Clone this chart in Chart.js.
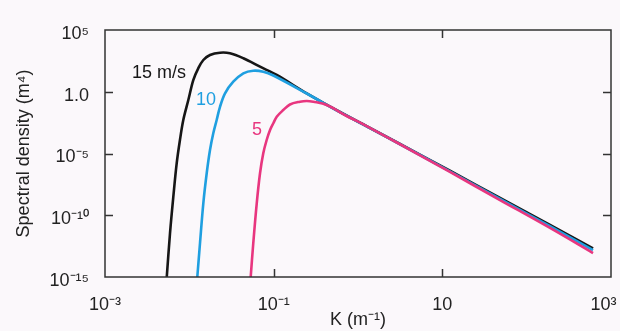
<!DOCTYPE html>
<html><head><meta charset="utf-8">
<script src="https://cdn.jsdelivr.net/npm/chart.js@4.4.1/dist/chart.umd.min.js"></script>
<style>html,body{margin:0;padding:0;background:#fbf8fb;overflow:hidden}#wrap{width:620px;height:331px;position:relative}</style>
</head><body><div id="wrap"><canvas id="c" width="620" height="331"></canvas></div>
<script>
const xTickValues = [1e-3, 1e-1, 10, 1e3];
const xTickLabels = ['10⁻³', '10⁻¹', '10', '10³\u00A0\u00A0\u00A0'];
const yTickValues = [1e-15, 1e-10, 1e-5, 1, 1e5];
const yTickLabels = ['10⁻¹⁵', '10⁻¹⁰', '10⁻⁵', '1.0', '10⁵'];

const k15 = [0.0054, 0.0059, 0.00646, 0.00708, 0.00774, 0.00848, 0.00973, 0.01114, 0.01276, 0.01466, 0.01758, 0.0231, 0.0303, 0.0437, 0.0689, 0.1087, 0.2466, 0.612, 1.388, 3.15, 12.3, 48.3, 189, 612];
const s15 = [1e-15, 3.5e-12, 3.2e-9, 1.6e-6, 1.24e-4, 5.2e-3, 0.215, 8.9, 79, 372, 946, 1450, 1300, 512, 107, 22.7, 0.748, 0.0229, 1.16e-3, 5.9e-5, 4.0e-7, 2.5e-9, 1.65e-11, 2.1e-13];

const k10 = [0.01243, 0.01338, 0.01465, 0.01607, 0.01758, 0.01923, 0.0211, 0.0231, 0.0265, 0.0332, 0.0437, 0.0573, 0.0753, 0.0991, 0.2466, 0.612, 1.388, 3.15, 12.3, 48.3, 189, 612];
const s10 = [1e-15, 5.4e-13, 9.3e-10, 2.5e-7, 1.9e-5, 4.3e-4, 5.2e-3, 0.06, 0.748, 6.5, 31.2, 50.6, 42, 20.7, 0.72, 0.022, 1.12e-3, 5.6e-5, 3.6e-7, 2.1e-9, 1.3e-11, 1.5e-13];

const k5 = [0.0534, 0.0573, 0.0630, 0.0689, 0.0753, 0.0826, 0.0906, 0.0991, 0.1087, 0.130, 0.156, 0.205, 0.2466, 0.295, 0.4256, 0.734, 1.057, 3.15, 12.3, 48.3, 189, 612];
const s5 = [1e-15, 5.4e-13, 9.3e-10, 2.5e-7, 1.04e-5, 1.24e-4, 8.0e-4, 2.8e-3, 9.5e-3, 0.0333, 0.093, 0.156, 0.18, 0.156, 0.0845, 0.0109, 3.2e-3, 5.6e-5, 3.2e-7, 1.7e-9, 9.3e-12, 8.7e-14];

const seriesNames = ['15 m/s', '10', '5'];
const seriesColors = ['#161616', '#1f9fe0', '#e8367f'];
const labelK = [0.00437, 0.0158, 0.0634];
const labelS = [33, 0.215, 8.0e-4];

const FONT = '"Liberation Sans", Arial, Helvetica, sans-serif';

function pts(k, s) { return k.map((v, i) => ({ x: v, y: s[i] })); }

const bgPlugin = {
  id: 'bg',
  beforeDraw(chart) {
    const ctx = chart.ctx;
    ctx.save();
    ctx.fillStyle = '#fbf8fb';
    ctx.fillRect(0, 0, chart.width, chart.height);
    ctx.restore();
  }
};

const framePlugin = {
  id: 'frame',
  afterDatasetsDraw(chart) {
    const { ctx, chartArea: a, scales } = chart;
    ctx.save();
    ctx.strokeStyle = '#333';
    ctx.lineWidth = 1.5;
    ctx.strokeRect(a.left, a.top, a.right - a.left, a.bottom - a.top);
    const L = 8;
    ctx.beginPath();
    xTickValues.forEach(v => {
      if (v === scales.x.min || v === scales.x.max) return;
      const px = Math.round(scales.x.getPixelForValue(v)) + 0.5;
      ctx.moveTo(px, a.bottom); ctx.lineTo(px, a.bottom - L);
      ctx.moveTo(px, a.top); ctx.lineTo(px, a.top + L);
    });
    yTickValues.forEach(v => {
      if (v === scales.y.min || v === scales.y.max) return;
      const py = Math.round(scales.y.getPixelForValue(v)) + 0.5;
      ctx.moveTo(a.left, py); ctx.lineTo(a.left + L, py);
      ctx.moveTo(a.right, py); ctx.lineTo(a.right - L, py);
    });
    ctx.stroke();
    ctx.font = '18px ' + FONT;
    ctx.textAlign = 'center';
    ctx.textBaseline = 'middle';
    seriesNames.forEach((n, i) => {
      ctx.fillStyle = seriesColors[i];
      ctx.fillText(n, scales.x.getPixelForValue(labelK[i]), scales.y.getPixelForValue(labelS[i]));
    });
    ctx.restore();
  }
};

new Chart(document.getElementById('c'), {
  type: 'line',
  data: {
    datasets: [
      { label: seriesNames[0], data: pts(k15, s15), borderColor: seriesColors[0] },
      { label: seriesNames[1], data: pts(k10, s10), borderColor: seriesColors[1] },
      { label: seriesNames[2], data: pts(k5, s5), borderColor: seriesColors[2] }
    ].reverse().map(d => Object.assign(d, { borderWidth: 2.6, pointRadius: 0, fill: false, tension: 0.35 }))
  },
  options: {
    responsive: false,
    animation: false,
    devicePixelRatio: 1,
    layout: { padding: { top: 30, right: 9, left: 0, bottom: 0 } },
    plugins: { legend: { display: false }, tooltip: { enabled: false } },
    scales: {
      x: {
        type: 'logarithmic', min: 1e-3, max: 1e3,
        grid: { display: false }, border: { display: false },
        afterBuildTicks: s => { s.ticks = xTickValues.map(v => ({ value: v })); },
        afterFit: s => { s.height = 54; s.paddingLeft = 0; s.paddingRight = 0; },
        ticks: {
          autoSkip: false, maxRotation: 0, padding: 9, color: '#222',
          font: { size: 18, family: FONT },
          callback: v => { const i = xTickValues.indexOf(v); return i >= 0 ? xTickLabels[i] : ''; }
        },
        title: { display: true, text: 'K (m⁻¹)', color: '#222', font: { size: 18, family: FONT }, padding: { top: 0, bottom: 0 } }
      },
      y: {
        type: 'logarithmic', min: 1e-15, max: 1e5,
        grid: { display: false }, border: { display: false },
        afterBuildTicks: s => { s.ticks = yTickValues.map(v => ({ value: v })); },
        afterFit: s => { s.width = 105; s.paddingTop = 0; s.paddingBottom = 0; },
        ticks: {
          autoSkip: false, padding: 8, labelOffset: 4, color: '#222',
          font: { size: 18, family: FONT },
          callback: v => { const i = yTickValues.indexOf(v); return i >= 0 ? yTickLabels[i] : ''; }
        },
        title: { display: true, text: 'Spectral density (m⁴)', color: '#222', font: { size: 18, family: FONT }, padding: { top: 13, bottom: 0 } }
      }
    }
  },
  plugins: [bgPlugin, framePlugin]
});
</script>
</body></html>
